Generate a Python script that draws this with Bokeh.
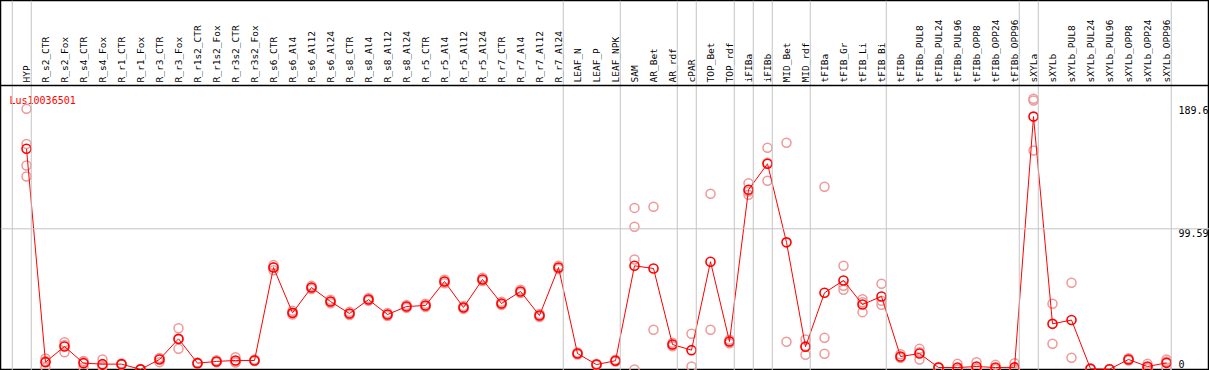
import math
from bokeh.plotting import figure
from bokeh.models import Range1d, Span
from bokeh.core.properties import value
from bokeh.embed import file_html
from bokeh.resources import INLINE

# ---------------- data ----------------
gene = "Lus10036501"

categories = [
    "HYP", "R_s2_CTR", "R_s2_Fox", "R_s4_CTR", "R_s4_Fox", "R_r1_CTR", "R_r1_Fox",
    "R_r3_CTR", "R_r3_Fox", "R_r1s2_CTR", "R_r1s2_Fox", "R_r3s2_CTR", "R_r3s2_Fox",
    "R_s6_CTR", "R_s6_Al4", "R_s6_Al12", "R_s6_Al24", "R_s8_CTR", "R_s8_Al4",
    "R_s8_Al12", "R_s8_Al24", "R_r5_CTR", "R_r5_Al4", "R_r5_Al12", "R_r5_Al24",
    "R_r7_CTR", "R_r7_Al4", "R_r7_Al12", "R_r7_Al24", "LEAF_N", "LEAF_P", "LEAF_NPK",
    "SAM", "AR_Bet", "AR_rdf", "cPAR", "TOP_Bet", "TOP_rdf", "iFIBa", "iFIBb",
    "MID_Bet", "MID_rdf", "tFIBa", "tFIB_Gr", "tFIB_Li", "tFIB_Bi", "tFIBb",
    "tFIBb_PUL8", "tFIBb_PUL24", "tFIBb_PUL96", "tFIBb_OPP8", "tFIBb_OPP24",
    "tFIBb_OPP96", "sXYLa", "sXYLb", "sXYLb_PUL8", "sXYLb_PUL24", "sXYLb_PUL96",
    "sXYLb_OPP8", "sXYLb_OPP24", "sXYLb_OPP96",
]

means = [
    156.2, 5.2, 16.3, 4.5, 3.8, 3.8, 0.1, 7.1, 21.7, 4.5, 5.7, 6.4, 6.4,
    72.2, 40.1, 58.0, 48.1, 39.6, 49.5, 38.9, 44.6, 45.3, 62.3, 43.9, 63.7,
    46.7, 55.2, 38.2, 72.2, 11.3, 3.5, 6.2,
    73.4, 71.5, 17.7, 13.7, 76.3, 19.8, 127.2, 145.6, 90.0, 16.1, 54.3,
    63.0, 46.0, 51.7, 9.2, 11.3, 1.4, 1.4, 2.1, 1.4, 1.5,
    179.0, 32.3, 35.0, 0.5, 0.2, 7.1, 2.1, 4.7,
]

replicates = [
    [184.5, 159.7, 144.4, 136.6], [7.8, 6.0, 1.6], [19.3, 17.4, 12.2], [5.7, 6.0, 1.6],
    [7.1, 2.5, 1.8], [4.2, 3.6, 3.5], [0.2, 0.0, 0.1], [8.0, 8.2, 5.2],
    [29.2, 21.4, 14.6], [5.0, 4.3, 4.2], [6.5, 5.5, 5.1], [8.7, 5.5, 5.0],
    [7.0, 6.2, 6.0], [74.0, 72.3, 70.3], [41.5, 39.9, 38.9], [59.2, 57.8, 57.0],
    [49.4, 48.0, 46.9], [40.8, 39.4, 38.6], [50.6, 49.3, 48.6], [40.0, 38.8, 37.9],
    [45.7, 44.5, 43.6], [46.5, 45.1, 44.3], [63.6, 62.2, 61.1], [45.0, 43.8, 42.9],
    [65.0, 63.5, 62.6], [47.9, 46.5, 45.7], [56.4, 55.0, 54.2], [39.3, 38.1, 37.2],
    [73.5, 72.0, 71.1], [12.1, 11.2, 10.6], [4.0, 3.4, 3.1], [6.9, 6.1, 5.6],
    [114.4, 101.0, 77.9, 0.0], [115.2, 28.1], [19.0, 17.7, 16.5], [25.3, 2.1],
    [124.4, 28.1], [21.0, 19.8, 18.6], [131.9, 126.0, 123.7], [156.9, 146.3, 133.6],
    [160.5, 19.6], [21.2, 16.6, 10.4], [129.3, 22.4, 11.1], [73.4, 59.2, 56.4],
    [49.8, 47.6, 40.6], [60.7, 48.6, 45.8], [10.8, 8.5, 8.3], [14.6, 12.2, 7.1],
    [1.8, 1.4, 1.0], [4.0, 0.2, 0.0], [5.2, 0.8, 0.3], [3.3, 0.6, 0.3],
    [4.5, 0.0, 0.0], [191.6, 190.4, 155.0], [46.5, 18.2], [61.4, 8.3],
    [0.8, 0.5, 0.2], [0.3, 0.2, 0.1], [8.0, 7.0, 6.3], [4.0, 1.5, 0.8],
    [7.1, 5.7, 1.3],
]

# index of the last category of each group (-1 = left edge)
group_ends = [-1, 0, 28, 31, 34, 35, 37, 38, 39, 41, 45, 52, 53, 60]

tick_values = [189.6, 99.59, 0]
tick_labels = ["189.6", "99.59", "0"]

# ---------------- layout ----------------
W, H = 1209, 370
PX = 19.0          # pixels per category
X0 = 26.0          # pixel position of first category
HEADER = 85
PLOT_H = H - HEADER
KY = 1.4128        # pixels per unit

x_start = -X0 / PX
x_end = x_start + W / PX
y_start = -1.0 / KY
y_plot_top = y_start + PLOT_H / KY
y_end = y_start + H / KY

FONT = value("DejaVu Sans Mono")

p = figure(width=W, height=H, x_range=Range1d(x_start, x_end), y_range=Range1d(y_start, y_end),
           output_backend="svg", toolbar_location=None, min_border=0,
           x_axis_location=None, y_axis_location=None)
p.grid.visible = False
p.outline_line_color = "black"
p.outline_line_width = 1.5
p.background_fill_color = "white"
p.border_fill_color = "white"

# group separators (full height)
for e in group_ends:
    p.add_layout(Span(location=e + 0.25, dimension="height", line_color="#c4c4c4", line_width=1))

# horizontal mid gridline
p.add_layout(Span(location=tick_values[1], dimension="width", line_color="#c4c4c4", line_width=1))

# header separator
p.add_layout(Span(location=y_plot_top, dimension="width", line_color="black", line_width=1.5))

idx = list(range(len(categories)))

# category labels (vertical)
p.text(x=idx, y=[y_plot_top + 3 / KY] * len(idx), text=categories, angle=math.pi / 2,
       text_align="left", text_baseline="middle", text_font=FONT, text_font_size="9.5px",
       text_color="black")

# replicates
rx, ry = [], []
for i, reps in enumerate(replicates):
    for v in reps:
        rx.append(i)
        ry.append(v)
p.scatter(rx, ry, marker="circle", size=9, fill_color=None, line_color="#f09898", line_width=1.5)

# mean line + markers
p.line(idx, means, line_color="red", line_width=1)
p.scatter(idx, means, marker="circle", size=9, fill_color=None, line_color="red", line_width=1.6)

# gene title
p.text(x=[x_start + 9 / PX], y=[y_plot_top - 9 / KY], text=[gene], text_align="left",
       text_baseline="top", text_font=FONT, text_font_size="10px", text_color="red")

# value labels on the right
label_px_offsets = [4, 0, -10]
p.text(x=[60 + 12 / PX] * 3,
       y=[v - o / KY for v, o in zip(tick_values, label_px_offsets)],
       text=tick_labels, text_align="left", text_baseline="top", text_font=FONT,
       text_font_size="10px", text_color="black")

open("out.html", "w").write(file_html(p, INLINE))
